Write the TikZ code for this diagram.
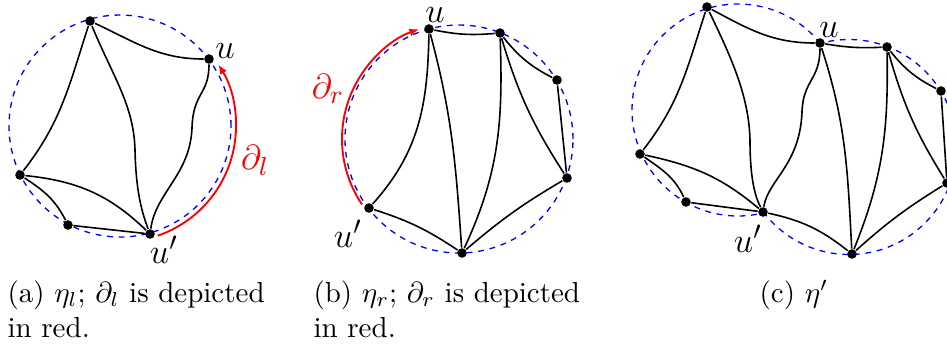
\documentclass[tikz,border=0pt]{standalone}
\usetikzlibrary{calc,arrows.meta}

\tikzset{
  vtx/.style={circle, fill=black, inner sep=0pt, minimum size=3.3pt},
  edge/.style={black, line width=0.55pt},
  bdry/.style={blue, line width=0.45pt, dash pattern=on 2pt off 2pt},
  redarc/.style={red, line width=0.65pt, -{Latex[length=3.3pt,width=2.7pt]}},
  lbl/.style={inner sep=0pt, font=\fontsize{13}{15}\selectfont},
  capt/.style={inner sep=0pt, align=left},
}

\begin{document}
\begin{tikzpicture}[x=0.345pt, y=0.345pt]

    % Frame (pixel units, y taken downwards)
    \useasboundingbox (0,0) rectangle (947,-349);
    \clip (0,0) rectangle (947,-349);

    % ===== (a) eta_l =====
    \coordinate (Oa) at (120,-126);
    \draw[bdry] (Oa) circle[radius=111];

    \node[vtx] (at) at (90,-21) {};
    \node[vtx] (au) at (209,-59) {};
    \node[vtx] (aL) at (20,-175) {};
    \node[vtx] (ab) at (68,-225) {};
    \node[vtx] (aw) at (150,-234) {};

    \draw[edge] (at) to[out=-25, in=180] (au);
    \draw[edge] (at) to[out=-108, in=52] (aL);
    \draw[edge] (at) .. controls (112,-75) and (134,-105) .. (135,-150)
                     .. controls (136,-195) and (143,-215) .. (aw);
    \draw[edge] (au) .. controls (209,-95) and (193,-92) .. (192,-128)
                     .. controls (190,-175) and (156,-192) .. (aw);
    \draw[edge] (aL) to[out=-6, in=136] (aw);
    \draw[edge] (aL) to[out=-33, in=117] (ab);
    \draw[edge] (ab) -- (aw);

    % boundary arc partial_l
    \draw[redarc] ($(Oa)+(-71:116)$) arc[start angle=-71, end angle=32, radius=116];

    \node[lbl] (au-l) at (225,-51) {$u$};
    \node[lbl] (aw-l) at (164,-250) {$u'$};
    \node[lbl, red] (da-l) at (255,-160) {$\partial_l$};

    % ===== (b) eta_r =====
    \coordinate (Ob) at (459,-139);
    \draw[bdry] (Ob) circle[radius=114];

    \node[vtx] (bu) at (429,-29) {};
    \node[vtx] (b2) at (500,-33) {};
    \node[vtx] (b3) at (557,-80) {};
    \node[vtx] (b4) at (567,-178) {};
    \node[vtx] (bB) at (462,-253) {};
    \node[vtx] (bw) at (369,-208) {};

    \draw[edge] (bu) to[bend right=8] (b2);
    \draw[edge] (bu) to[out=-91, in=48] (bw);
    \draw[edge] (bu) to[out=-75, in=94] (bB);
    \draw[edge] (b2) to[out=-88, in=65] (bB);
    \draw[edge] (b2) to[bend right=8] (b4);
    \draw[edge] (b2) to[bend right=12] (b3);
    \draw[edge] (b3) -- (b4);
    \draw[edge] (b4) to[bend right=5] (bB);
    \draw[edge] (bw) to[bend left=8] (bB);

    % boundary arc partial_r
    \draw[redarc] ($(Ob)+(214:117)$) arc[start angle=214, end angle=110, radius=117];

    \node[lbl] (bu-l) at (435,-15) {$u$};
    \node[lbl] (bw-l) at (348,-234) {$u'$};
    \node[lbl, red] (db-l) at (328,-89) {$\partial_r$};

    % ===== (c) eta' =====
    \coordinate (Ol) at (738,-110);
    \coordinate (Or) at (849,-147);
    \draw[bdry] ($(Ol)+(39:106)$) arc[start angle=39, end angle=284, radius=106];
    \draw[bdry] ($(Or)+(-143:107.5)$) arc[start angle=-143, end angle=106, radius=107.5];

    \node[vtx] (ct) at (707,-7) {};
    \node[vtx] (cu) at (820,-43) {};
    \node[vtx] (c2) at (887,-47) {};
    \node[vtx] (c3) at (941,-91) {};
    \node[vtx] (c4) at (947,-183) {};
    \node[vtx] (cB) at (852,-254) {};
    \node[vtx] (cw) at (763,-212) {};
    \node[vtx] (cL) at (640,-154) {};
    \node[vtx] (cb) at (686,-202) {};

    \draw[edge] (ct) to[out=-28, in=180] (cu);
    \draw[edge] (ct) to[out=-108, in=52] (cL);
    \draw[edge] (ct) .. controls (730,-55) and (749,-95) .. (750,-140)
                     .. controls (750,-185) and (757,-200) .. (cw);
    \draw[edge] (cu) .. controls (820,-80) and (803,-80) .. (802,-112)
                     .. controls (800,-165) and (768,-180) .. (cw);
    \draw[edge] (cL) to[out=-12, in=140] (cw);
    \draw[edge] (cL) to[out=-35, in=115] (cb);
    \draw[edge] (cb) -- (cw);
    \draw[edge] (cw) to[bend left=13] (cB);
    \draw[edge] (cu) to[out=-72, in=93] (cB);
    \draw[edge] (cu) to[bend right=6] (c2);
    \draw[edge] (c2) to[out=-89, in=68] (cB);
    \draw[edge] (c2) to[bend right=8] (c4);
    \draw[edge] (c2) to[bend right=12] (c3);
    \draw[edge] (c3) -- (c4);
    \draw[edge] (c4) to[bend right=5] (cB);

    \node[lbl] (cu-l) at (829,-30) {$u$};
    \node[lbl] (cw-l) at (748,-239) {$u'$};

    % ===== captions =====
    \node[capt, anchor=north west] (cap-a) at (7,-280)
        {(a) $\eta_l$; $\partial_l$ is depicted\\in red.};
    \node[capt, anchor=north west] (cap-b) at (313,-280)
        {(b) $\eta_r$; $\partial_r$ is depicted\\in red.};
    \node[capt, anchor=base] (cap-c) at (794,-302) {(c) $\eta'$};

\end{tikzpicture}
\end{document}
